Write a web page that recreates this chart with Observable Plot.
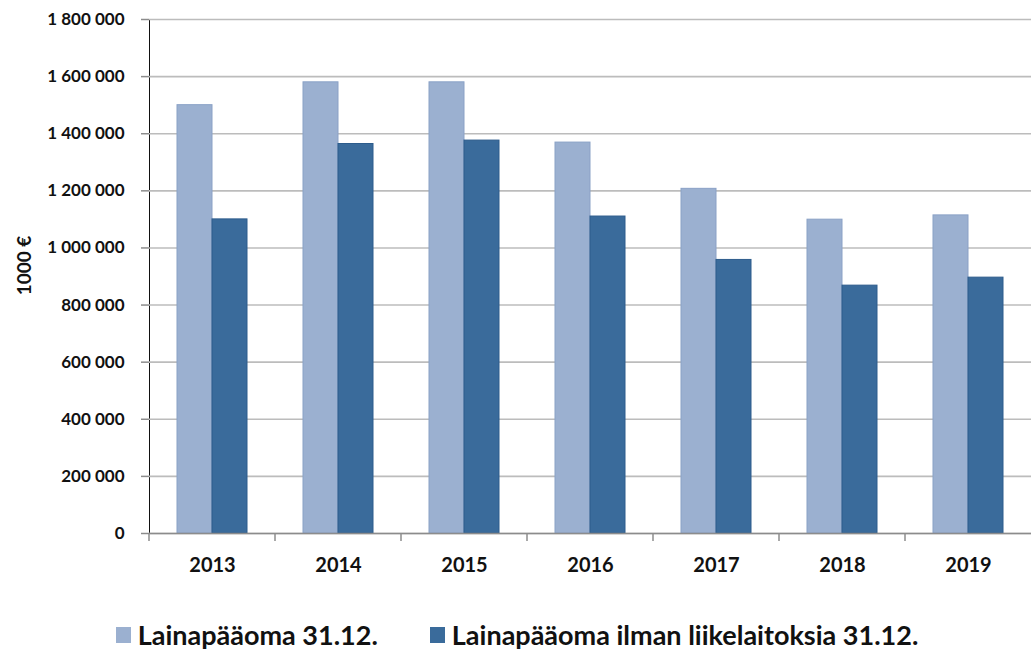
<!DOCTYPE html>
<html>
<head>
<meta charset="utf-8">
<script src="https://cdn.jsdelivr.net/npm/d3@7"></script>
<script src="https://cdn.jsdelivr.net/npm/@observablehq/plot@0.6"></script>
<style>
  html, body { margin: 0; padding: 0; background: #fff; }
  #chart { width: 1034px; }
  .legend { display: flex; justify-content: center; align-items: center; gap: 52px;
    font-family: Lato, "Open Sans", sans-serif; font-weight: bold; font-size: 27px; color: #111;
    margin-top: 28px; padding-right: 0px; }
  .legend .item { display: flex; align-items: center; gap: 7px; }
  .legend .sw { width: 15px; height: 16px; display: inline-block; }
</style>
</head>
<body>
<div id="chart"></div>
<script>
const years = ["2013", "2014", "2015", "2016", "2017", "2018", "2019"];
const series = ["Lainapääoma 31.12.", "Lainapääoma ilman liikelaitoksia 31.12."];
const totalLoans = [1500000, 1580000, 1580000, 1369000, 1207000, 1099000, 1114000];
const loansExclEnterprises = [1100000, 1364000, 1376000, 1110000, 958000, 868000, 896000];
const yTicks = [0, 200000, 400000, 600000, 800000, 1000000, 1200000, 1400000, 1600000, 1800000];
const colors = ["#9bb0d0", "#3a6b9b"];
const strokes = ["#8aa1c6", "#2d5c8c"];
const yLabel = "1000 €";

const data = years.flatMap((year, i) => [
  {year, series: series[0], value: totalLoans[i]},
  {year, series: series[1], value: loansExclEnterprises[i]}
]);

const fmt = d3.formatLocale({decimal: ",", thousands: " ", grouping: [3], currency: ["", "€"]}).format(",");

const plot = Plot.plot({
  width: 1034,
  height: 590,
  marginLeft: 146,
  marginRight: 0,
  marginTop: 19,
  marginBottom: 57,
  style: {fontFamily: "Lato, 'Open Sans', sans-serif", fontWeight: "bold", fontSize: "17px", color: "#111", background: "#fff"},
  fx: {domain: years, padding: 0, label: null, axis: "bottom", tickSize: 0, tickPadding: 24},
  x: {domain: series, paddingInner: 0, paddingOuter: 0.8, axis: null},
  y: {domain: [0, 1800000], ticks: yTicks, tickFormat: fmt, tickSize: 8, tickPadding: 17, line: true, label: null},
  color: {domain: series, range: colors},
  marks: [
    Plot.gridY(yTicks, {stroke: "#bcbcbc", strokeOpacity: 1, strokeWidth: 1.6}),
    Plot.barY(data, {fx: "year", x: "series", y: "value", fill: "series",
      stroke: d => strokes[series.indexOf(d.series)], strokeWidth: 1}),
    Plot.ruleY([0], {stroke: "#8c8c8c", strokeWidth: 1.5}),
    Plot.text([{fx: years[0], t: yLabel}], {fx: "fx", text: "t", frameAnchor: "left", textAnchor: "middle", rotate: -90,
      dx: -125, dy: -11, fontSize: 19, fontWeight: "bold", fill: "#111"}),
    (index, scales, values, dimensions) => {
      const g = d3.create("svg:g");
      const x0 = dimensions.marginLeft;
      const yb = dimensions.height - dimensions.marginBottom;
      g.append("line").attr("x1", x0).attr("x2", x0).attr("y1", yb).attr("y2", yb + 8)
        .attr("stroke", "#8c8c8c").attr("stroke-width", 1.5);
      return g.node();
    }
  ]
});

const sel = d3.select(plot);
sel.selectAll('[aria-label="y-axis tick"], [aria-label="y-axis line"]')
  .attr("stroke", "#8c8c8c").attr("stroke-width", 1.5);
sel.selectAll('[aria-label="y-axis tick"] path, [aria-label="y-axis line"] path')
  .attr("stroke", "#8c8c8c").attr("stroke-width", 1.5);
sel.selectAll('[aria-label="y-axis tick label"]').attr("font-size", 17).style("font-size", "17px");
sel.selectAll('[aria-label="fx-axis tick label"]').attr("font-size", 20).style("font-size", "20px");

document.getElementById("chart").appendChild(plot);

const legend = d3.select("body").append("div").attr("class", "legend");
series.forEach((s, i) => {
  const it = legend.append("div").attr("class", "item");
  it.append("span").attr("class", "sw").style("background", colors[i]);
  it.append("span").text(s);
});
</script>
</body>
</html>
